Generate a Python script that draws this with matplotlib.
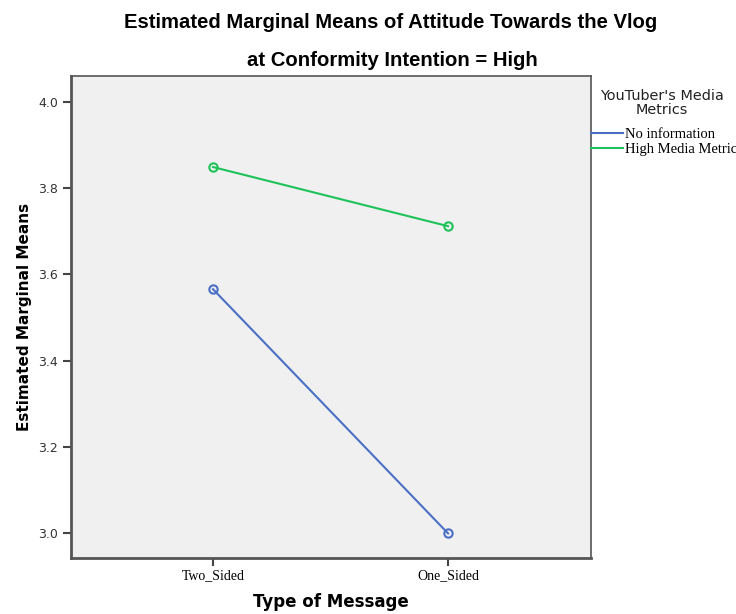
import matplotlib
matplotlib.use('Agg')
import matplotlib.pyplot as plt
from matplotlib.lines import Line2D

categories = ['Two_Sided', 'One_Sided']
no_info = [3.566, 3.000]
high_metrics = [3.849, 3.712]
series_names = ['No information', 'High Media Metrics']
colors = ['#4a6fc4', '#1ec25a']

W, H = 736, 614
fig = plt.figure(figsize=(W / 100, H / 100), dpi=100)
fig.patch.set_facecolor('white')

# axes box measured in pixels: left 71, right 591, top 76, bottom 558
ax = fig.add_axes([71 / W, 1 - 558 / H, (591 - 71) / W, (558 - 76) / H])
ax.set_facecolor('#f0f0f0')

x = list(range(len(categories)))
for vals, col, name in zip([no_info, high_metrics], colors, series_names):
  ax.plot(x, vals, color=col, linewidth=1.5, marker='o', markersize=6,
          markerfacecolor='none', markeredgewidth=1.5, label=name)

ax.set_xlim(-0.604, 1.608)
ax.set_ylim(2.943, 4.060)
ax.set_xticks(x)
ax.set_xticklabels(categories, fontfamily='Liberation Serif', fontsize=10)
ax.set_yticks([3.0, 3.2, 3.4, 3.6, 3.8, 4.0])
ax.set_yticklabels(['3.0', '3.2', '3.4', '3.6', '3.8', '4.0'],
                   fontfamily='DejaVu Sans', fontsize=9, color='#333333')

for s in ax.spines.values():
  s.set_color('#555555')
  s.set_linewidth(1.2)
ax.spines['left'].set_linewidth(2)
ax.spines['bottom'].set_linewidth(2)
ax.tick_params(axis='both', direction='out', length=6, width=1.5, color='#444444')
ax.tick_params(axis='x', pad=2)

ax.set_xlabel('Type of Message', fontfamily='DejaVu Sans', fontweight='bold',
              fontsize=12, labelpad=8)
ax.set_ylabel('Estimated Marginal Means', fontfamily='DejaVu Sans', fontweight='bold',
              fontsize=11, labelpad=4)

fig.text(391 / W, 1 - 22 / H, 'Estimated Marginal Means of Attitude Towards the Vlog',
         ha='center', va='center', fontfamily='Liberation Sans', fontweight='bold',
         fontsize=14.6)
fig.text(392 / W, 1 - 60 / H, 'at Conformity Intention = High',
         ha='center', va='center', fontfamily='Liberation Sans', fontweight='bold',
         fontsize=14.6)

# legend title drawn as text so it can be centred over two lines
fig.text(662 / W, 1 - 103 / H, "YouTuber's Media\nMetrics", ha='center', va='center',
         multialignment='center', fontfamily='DejaVu Sans', fontsize=10.4,
         color='#222222', linespacing=1.05)
handles = [Line2D([], [], color=c, linewidth=1.5) for c in colors]
fig.legend(handles, series_names, loc='upper left',
           bbox_to_anchor=(591 / W, 1 - 128 / H), frameon=False,
           prop={'family': 'Liberation Serif', 'size': 10.5},
           handlelength=2.2, handletextpad=0.15, labelspacing=0.12,
           borderaxespad=0, borderpad=0)

fig.savefig('out.png', dpi=100)
